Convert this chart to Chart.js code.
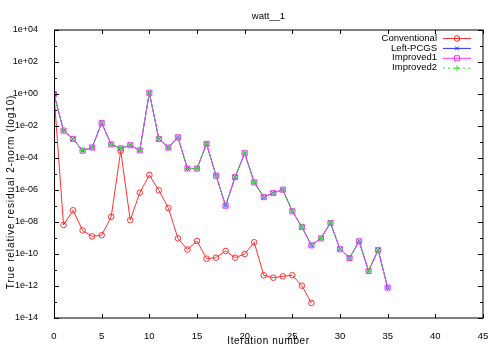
<!DOCTYPE html>
<html>
<head>
<meta charset="utf-8">
<script src="https://cdn.jsdelivr.net/npm/chart.js@4.4.1/dist/chart.umd.min.js"></script>
<style>
  html, body { margin: 0; padding: 0; background: #fff; }
  #wrap { width: 500px; height: 350px; }
</style>
</head>
<body>
<div id="wrap"><canvas id="residChart" width="500" height="350"></canvas></div>
<script>
// iteration numbers
const convIters = [0,1,2,3,4,5,6,7,8,9,10,11,12,13,14,15,16,17,18,19,20,21,22,23,24,25,26,27];
const pcgsIters = [0,1,2,3,4,5,6,7,8,9,10,11,12,13,14,15,16,17,18,19,20,21,22,23,24,25,26,27,28,29,30,31,32,33,34,35];

// true relative residual 2-norm
const convRes = [1, 6.5e-9, 5.4e-8, 3.0e-9, 1.26e-9, 1.5e-9, 2.1e-8, 2.8e-4, 1.3e-8, 6.8e-7,
  8.7e-6, 9.5e-7, 7.4e-8, 9.5e-10, 1.9e-10, 6.5e-10, 5.1e-11, 5.9e-11, 1.55e-10, 5.9e-11,
  1.0e-10, 5.4e-10, 4.7e-12, 3.3e-12, 4.0e-12, 4.7e-12, 1.05e-12, 8.7e-14];
const pcgsRes = [1, 5.1e-3, 1.55e-3, 2.9e-4, 4.5e-4, 1.55e-2, 7.1e-4, 4.0e-4, 6.3e-4, 3.0e-4,
  1.2, 1.55e-3, 4.5e-4, 1.95e-3, 2.2e-5, 2.2e-5, 7.6e-4, 7.9e-6, 1.05e-7, 6.5e-6,
  2.0e-4, 3.0e-6, 3.6e-7, 6.5e-7, 1.05e-6, 4.7e-8, 4.9e-9, 3.5e-10, 9.5e-10, 8.7e-9,
  2.0e-10, 5.6e-11, 6.2e-10, 8.7e-12, 1.8e-10, 7.9e-13];
// Improved1 / Improved2 sit exactly on top of Left-PCGS in the picture
const improved1Res = pcgsRes.slice();
const improved2Res = pcgsRes.slice();

const xTicks = [0, 5, 10, 15, 20, 25, 30, 35, 40, 45];
const yExps = [-14,-13,-12,-11,-10,-9,-8,-7,-6,-5,-4,-3,-2,-1,0,1,2,3,4];

const FONT = '"Liberation Sans", Arial, sans-serif';

function pts(xs, ys) {
  return xs.map((x, i) => ({ x: x, y: ys[i] }));
}

function fmtExp(v) {
  const e = Math.round(Math.log10(v));
  if (e % 2 !== 0) return '';
  const s = e < 0 ? '-' : '+';
  return '1e' + s + String(Math.abs(e)).padStart(2, '0');
}

// gnuplot-like frame: box border, inward ticks, axis titles, key
const framePlugin = {
  id: 'frame',
  afterDraw(chart) {
    const ctx = chart.ctx;
    const a = chart.chartArea;
    const xs = chart.scales.x, ys = chart.scales.y;
    ctx.save();
    ctx.strokeStyle = '#000';
    ctx.lineWidth = 1;
    ctx.beginPath();
    xTicks.forEach(v => {
      const px = Math.round(xs.getPixelForValue(v)) + 0.5;
      ctx.moveTo(px, a.bottom); ctx.lineTo(px, a.bottom - 4);
      ctx.moveTo(px, a.top); ctx.lineTo(px, a.top + 4);
    });
    yExps.forEach(e => {
      const py = Math.round(ys.getPixelForValue(Math.pow(10, e))) + 0.5;
      const len = e % 2 === 0 ? 5 : 3;
      ctx.moveTo(a.left, py); ctx.lineTo(a.left + len, py);
      ctx.moveTo(a.right, py); ctx.lineTo(a.right - len, py);
    });
    ctx.stroke();
    ctx.strokeRect(a.left + 0.5, a.top, a.right - a.left - 0.5, a.bottom - a.top);

    // axis titles
    ctx.fillStyle = '#000';
    ctx.textAlign = 'center';
    ctx.textBaseline = 'middle';
    ctx.font = '10px ' + FONT;
    if ('letterSpacing' in ctx) ctx.letterSpacing = '0.6px';
    ctx.fillText('Iteration number', (a.left + a.right) / 2, 341);
    ctx.save();
    ctx.translate(11, 192);
    ctx.rotate(-Math.PI / 2);
    if ('letterSpacing' in ctx) ctx.letterSpacing = '0.9px';
    ctx.fillText('True relative residual 2-norm (log10)', 0, 0);
    ctx.restore();
    if ('letterSpacing' in ctx) ctx.letterSpacing = '0px';

    // key, top right inside the plot
    ctx.font = '9.5px ' + FONT;
    ctx.textAlign = 'right';
    chart.data.datasets.forEach((ds, i) => {
      const y = a.top + 8 + i * 9.9;
      ctx.fillStyle = '#000';
      ctx.fillText(ds.label, a.right - 46, y);
      ctx.strokeStyle = ds.borderColor;
      ctx.lineWidth = 1;
      ctx.setLineDash(ds.borderDash || []);
      ctx.beginPath();
      ctx.moveTo(a.right - 40, y + 0.5);
      ctx.lineTo(a.right - 12, y + 0.5);
      ctx.stroke();
      ctx.setLineDash([]);
      ctx.fillStyle = 'rgba(0,0,0,0)';
      Chart.helpers.drawPoint(ctx, {
        pointStyle: ds.pointStyle, radius: ds.pointRadius, rotation: 0, borderWidth: 1
      }, a.right - 26, y + 0.5);
    });
    ctx.restore();
  }
};

const ctx = document.getElementById('residChart').getContext('2d');
const residChart = new Chart(ctx, {
  type: 'line',
  data: {
    datasets: [
      { label: 'Conventional', data: pts(convIters, convRes), borderColor: '#ff3030',
        backgroundColor: 'transparent', pointStyle: 'circle', pointRadius: 2.8, borderWidth: 1, order: 4 },
      { label: 'Left-PCGS', data: pts(pcgsIters, pcgsRes), borderColor: '#3030ff',
        backgroundColor: 'transparent', pointStyle: 'crossRot', pointRadius: 2.8, borderWidth: 1, order: 3 },
      { label: 'Improved1', data: pts(pcgsIters, improved1Res), borderColor: '#ff30ff',
        backgroundColor: 'transparent', pointStyle: 'rect', pointRadius: 3.6, borderWidth: 1, order: 2 },
      { label: 'Improved2', data: pts(pcgsIters, improved2Res), borderColor: '#30e030',
        backgroundColor: 'transparent', pointStyle: 'cross', pointRadius: 2.8, borderWidth: 1,
        borderDash: [2, 3], order: 1 }
    ]
  },
  options: {
    responsive: false,
    animation: false,
    layout: { padding: { left: 0, right: 17, top: 0, bottom: 0 } },
    plugins: {
      legend: { display: false },
      tooltip: { enabled: false },
      title: {
        display: true, text: 'watt__1', fullSize: false, color: '#000',
        font: { family: FONT, size: 9.5, weight: 'normal' },
        padding: { top: 10.5, bottom: 8.1 }
      }
    },
    scales: {
      x: {
        type: 'linear', min: 0, max: 45,
        grid: { display: false }, border: { display: false },
        afterBuildTicks: s => { s.ticks = xTicks.map(v => ({ value: v })); },
        afterFit: s => { s.height = 32; },
        ticks: { autoSkip: false, maxRotation: 0, padding: 5, color: '#000',
          font: { family: FONT, size: 9.5 } }
      },
      y: {
        type: 'logarithmic', min: 1e-14, max: 1e4,
        grid: { display: false }, border: { display: false },
        afterBuildTicks: s => { s.ticks = yExps.map(e => ({ value: Math.pow(10, e) })); },
        afterFit: s => { s.width = 54; },
        ticks: { autoSkip: false, padding: 8, color: '#000',
          font: { family: FONT, size: 9 }, callback: v => fmtExp(v) }
      }
    }
  },
  plugins: [framePlugin]
});
</script>
</body>
</html>
